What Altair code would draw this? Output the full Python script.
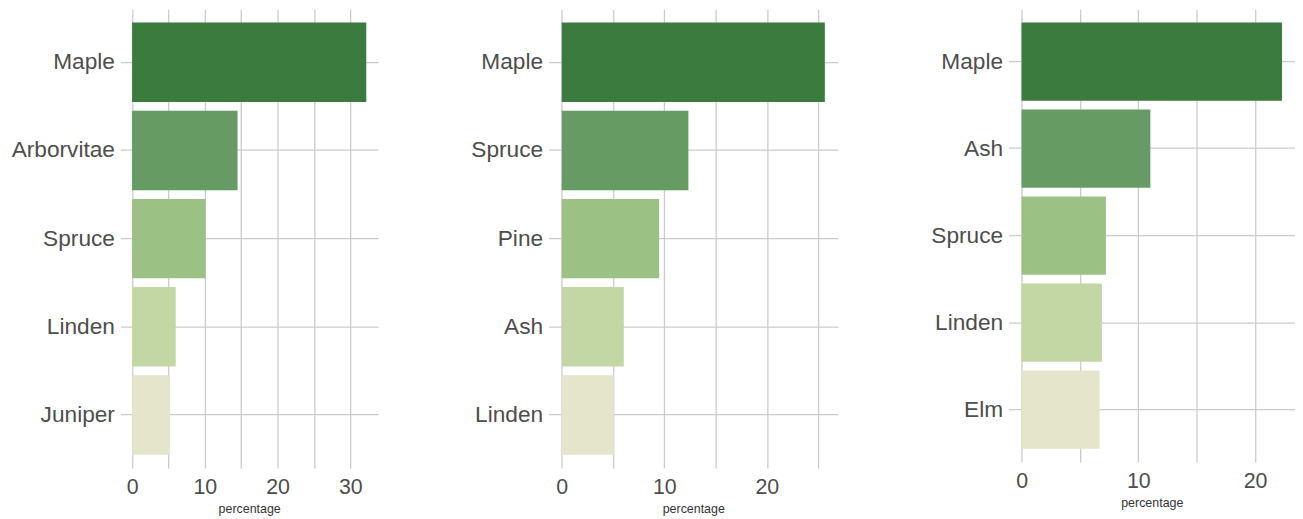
import altair as alt
import pandas as pd

# ---- data ----
p1_species = ["Maple", "Arborvitae", "Spruce", "Linden", "Juniper"]
p1_values = [32.2, 14.5, 10.1, 6.0, 5.2]

p2_species = ["Maple", "Spruce", "Pine", "Ash", "Linden"]
p2_values = [25.65, 12.35, 9.5, 6.05, 5.08]

p3_species = ["Maple", "Ash", "Spruce", "Linden", "Elm"]
p3_values = [22.3, 11.03, 7.22, 6.88, 6.68]

ranks = [0, 1, 2, 3, 4]
shades = ["#3b7b3e", "#669b63", "#9cc185", "#c3d7a5", "#e5e5cc"]

FONT = "Liberation Sans"
GRID = "#cbcbcb"


def panel(species, values, width, height, grid_vals):
    df = pd.DataFrame({"species": species, "percentage": values, "rank": ranks})
    vmax = max(values)
    pad = vmax * 0.05
    return (
        alt.Chart(df)
        .mark_bar()
        .encode(
            y=alt.Y(
                "species:N",
                sort=species,
                scale=alt.Scale(paddingInner=0.1, paddingOuter=0.15),
                axis=alt.Axis(
                    title=None,
                    grid=True,
                    bandPosition=0.5,
                    ticks=False,
                    domain=False,
                    labelFontSize=22.8,
                    labelColor="#4d4d4d",
                    labelFont=FONT,
                    labelPadding=6,
                    gridColor=GRID,
                    gridWidth=1.3,
                ),
            ),
            x=alt.X(
                "percentage:Q",
                scale=alt.Scale(domain=[-pad, vmax + pad], nice=False, zero=False),
                axis=alt.Axis(
                    title="percentage",
                    values=grid_vals,
                    labelExpr="datum.value % 10 === 0 ? datum.label : ''",
                    ticks=False,
                    domain=False,
                    grid=True,
                    gridColor=GRID,
                    gridWidth=1.3,
                    labelFontSize=21.5,
                    labelColor="#4d4d4d",
                    labelFont=FONT,
                    labelPadding=9,
                    titleFont=FONT,
                    titleFontSize=12.5,
                    titleFontWeight="normal",
                    titleColor="#333333",
                    titlePadding=4,
                ),
            ),
            x2=alt.datum(0),
            color=alt.Color(
                "rank:O",
                scale=alt.Scale(domain=ranks, range=shades),
                legend=None,
            ),
        )
        .properties(width=width, height=height)
    )


c1 = panel(p1_species, p1_values, 259, 461, [0, 5, 10, 15, 20, 25, 30])
c2 = panel(p2_species, p2_values, 291, 461, [0, 5, 10, 15, 20, 25])
c3 = panel(p3_species, p3_values, 288, 455, [0, 5, 10, 15, 20])

chart = (
    alt.hconcat(c1, c2, c3, spacing=171.5, bounds="flush")
    .properties(padding={"left": 3, "top": 0, "right": 0, "bottom": 0})
    .configure_view(stroke=None)
)

chart.save("out.html", embed_options={"renderer": "svg", "actions": False})
